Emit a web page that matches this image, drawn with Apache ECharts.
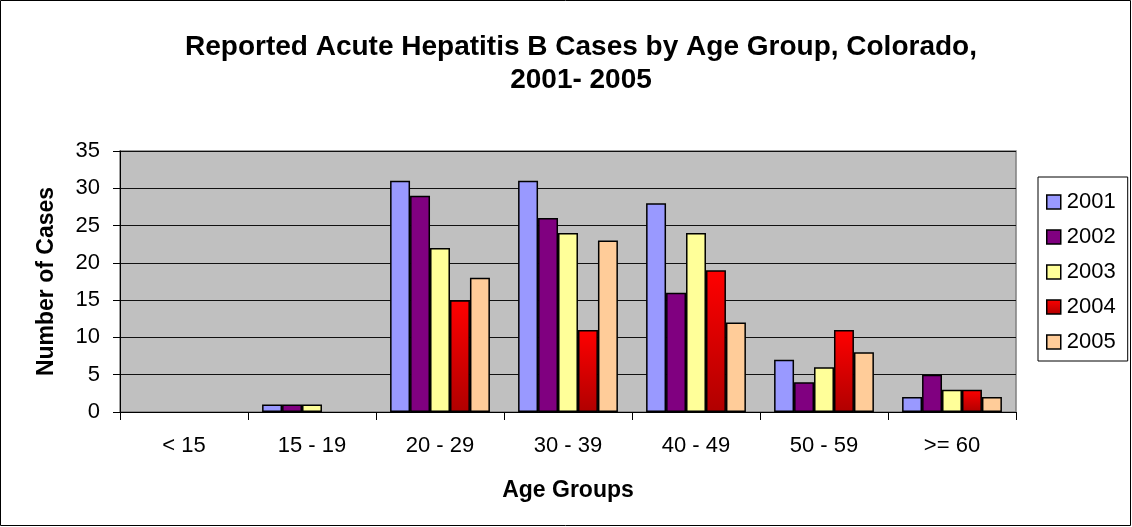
<!DOCTYPE html>
<html>
<head>
<meta charset="utf-8">
<script src="https://cdn.jsdelivr.net/npm/echarts@6/dist/echarts.min.js"></script>
<style>
  html, body { margin: 0; padding: 0; background: #fff; }
  #main { width: 1132px; height: 527px; }
</style>
</head>
<body>
<div id="main"></div>
<script>
var categories = ['< 15', '15 - 19', '20 - 29', '30 - 39', '40 - 49', '50 - 59', '>= 60'];
var years = ['2001', '2002', '2003', '2004', '2005'];
var y2001 = [0, 1, 31, 31, 28, 7, 2];
var y2002 = [0, 1, 29, 26, 16, 4, 5];
var y2003 = [0, 1, 22, 24, 24, 6, 3];
var y2004 = [0, 0, 15, 11, 19, 11, 3];
var y2005 = [0, 0, 18, 23, 12, 8, 2];
var yTicks = [0, 5, 10, 15, 20, 25, 30, 35];

var font = 'Arial, "Liberation Sans", sans-serif';
var chart = echarts.init(document.getElementById('main'));

var redFill = new echarts.graphic.LinearGradient(0, 0, 0, 1, [
  { offset: 0, color: '#ff0000' },
  { offset: 1, color: '#b00000' }
]);
var colors = ['#9999ff', '#800080', '#ffff99', redFill, '#ffcc99'];
var allData = [y2001, y2002, y2003, y2004, y2005];

// zero-height bars are not drawn in the original
var series = years.map(function (y, i) {
  return {
    name: y,
    type: 'bar',
    data: allData[i].map(function (v) { return v === 0 ? null : v; }),
    barGap: '0%',
    barCategoryGap: '22%',
    itemStyle: { color: colors[i], borderColor: '#000', borderWidth: 1.5 },
    emphasis: { disabled: true }
  };
});

var option = {
  backgroundColor: '#fff',
  animation: false,
  title: {
    text: 'Reported Acute Hepatitis B Cases by Age Group, Colorado,\n2001- 2005',
    left: 576,
    textAlign: 'center',
    top: 26,
    textStyle: { fontFamily: font, fontSize: 28, fontWeight: 'bold', color: '#000', lineHeight: 33 }
  },
  legend: {
    orient: 'vertical',
    left: 1038,
    top: 177,
    data: years,
    itemWidth: 14,
    itemHeight: 14,
    itemGap: 13,
    padding: [14, 12, 8, 8],
    borderColor: '#000',
    borderWidth: 1,
    icon: 'rect',
    itemStyle: { borderColor: '#000', borderWidth: 1.5 },
    textStyle: { fontFamily: font, fontSize: 22, color: '#000', lineHeight: 22, padding: [0, 0, 0, 1] }
  },
  grid: {
    left: 120, top: 151, width: 896, height: 261,
    show: true, backgroundColor: '#c0c0c0', borderColor: '#808080', borderWidth: 1.5
  },
  xAxis: {
    type: 'category',
    data: categories,
    name: 'Age Groups',
    nameLocation: 'middle',
    nameGap: 67,
    nameTextStyle: { fontFamily: font, fontSize: 23, fontWeight: 'bold', color: '#000' },
    axisLine: { lineStyle: { color: '#000', width: 1 } },
    axisTick: { show: true, length: 8, lineStyle: { color: '#000' } },
    axisLabel: { fontFamily: font, fontSize: 22, color: '#000', margin: 23 }
  },
  yAxis: {
    type: 'value',
    min: 0,
    max: 35,
    interval: 5,
    name: 'Number of Cases',
    nameLocation: 'middle',
    nameGap: 62,
    nameRotate: 90,
    nameTextStyle: { fontFamily: font, fontSize: 23, fontWeight: 'bold', color: '#000' },
    axisLine: { show: true, lineStyle: { color: '#000', width: 1 } },
    axisTick: { show: true, length: 7, lineStyle: { color: '#000' } },
    axisLabel: {
      fontFamily: font, fontSize: 22, color: '#000', margin: 20,
      formatter: function (v) { return yTicks.indexOf(v) >= 0 ? String(v) : ''; }
    },
    splitLine: { show: true, lineStyle: { color: '#111', width: 1 } }
  },
  graphic: [{
    type: 'rect',
    shape: { x: 0.5, y: 0.5, width: 1130, height: 525 },
    style: { fill: 'none', stroke: '#000', lineWidth: 1 },
    silent: true
  }],
  series: series
};

chart.setOption(option);
</script>
</body>
</html>
